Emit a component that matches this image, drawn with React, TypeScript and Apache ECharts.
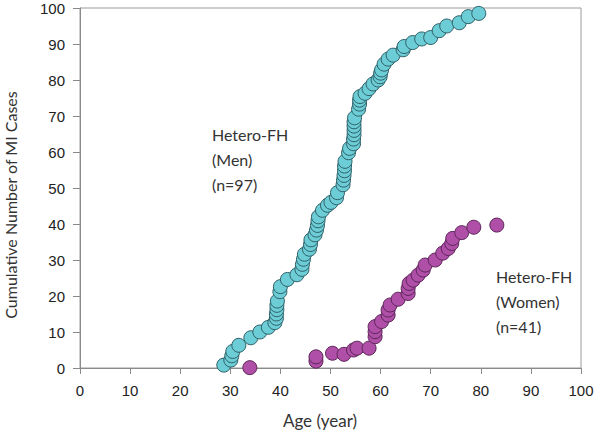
import React, { useEffect, useRef } from "react";
import * as echarts from "echarts";

const xTicks = [0, 100, 10];
const yTicks = [0, 100, 10];
const xTitle = "Age (year)";
const yTitle = "Cumulative Number of MI Cases";

const menAges = [
  28.7, 30.1, 30.3, 30.5, 31.7, 34.1, 35.9, 37.6, 38.9,
  39.2, 39.2, 39.3, 39.3, 39.4,
  39.9, 40.0, 41.4, 43.3, 44.3, 44.4, 44.6, 44.8, 45.8, 46.0, 46.1, 46.9, 47.2, 47.4, 47.5, 47.6, 48.4, 49.4, 50.1,
  51.2, 51.4, 52.5, 52.6, 52.7, 52.8, 52.8, 52.9, 53.6, 53.8, 54.6, 54.6, 54.7, 54.7, 54.7, 54.7, 54.8,
  55.6, 55.8, 55.8, 55.9, 56.9, 57.7, 58.5, 59.5, 59.9, 60.0, 60.2, 60.7, 61.5, 62.5, 64.5, 64.7, 66.4, 68.2, 70.0, 71.7, 73.2, 75.7, 77.5, 79.6,
];
const menCases = [
  0.8, 2.2, 3.4, 4.6, 6.3, 8.4, 10.0, 11.3, 12.6,
  13.8, 15.0, 16.2, 17.4, 18.6,
  21.2, 22.6, 24.6, 25.9, 27.4, 28.8, 30.2, 31.6, 33.0, 34.3, 35.6, 37.0, 38.3, 39.6, 40.9, 42.0, 43.8, 45.2, 46.0,
  47.3, 48.7, 50.9, 52.2, 53.5, 54.8, 56.1, 57.4, 59.8, 61.0, 62.3, 63.6, 64.8, 66.0, 67.2, 68.4, 69.5,
  71.9, 73.3, 74.4, 75.4, 76.3, 77.6, 78.9, 80.0, 80.9, 81.9, 82.8, 84.4, 85.8, 86.9, 88.4, 89.3, 90.4, 91.4, 91.8, 93.7, 95.0, 95.9, 97.6, 98.5,
];

const womenAges = [
  33.9, 47.1, 47.1, 50.4, 52.7, 54.6, 55.3, 57.7,
  58.9, 58.9, 58.9, 60.2, 61.5, 61.5, 61.9, 63.5, 65.5, 65.5, 65.7, 66.5, 67.5, 68.5, 68.9, 70.9, 72.4, 73.5, 74.2, 74.4, 76.2, 78.6, 83.2,
];
const womenCases = [
  0.1, 1.9, 3.1, 4.1, 3.8, 5.0, 5.5, 5.5,
  8.7, 10.1, 11.5, 12.9, 14.7, 16.1, 17.5, 19.1, 20.7, 22.1, 23.5, 24.4, 25.8, 27.2, 28.6, 30.0, 31.9, 33.2, 34.6, 36.0, 37.6, 39.1, 39.7,
];

const menLabel = ["Hetero-FH", "(Men)", "(n=97)"];
const womenLabel = ["Hetero-FH", "(Women)", "(n=41)"];

export default function App() {
  const ref = useRef<HTMLDivElement>(null);
  useEffect(() => {
    if (!ref.current) return;
    const chart = echarts.init(ref.current, null, { renderer: "svg" });
    const textFont = "Lato, 'Open Sans', sans-serif";
    const tickFont = "'Liberation Sans', Arial, sans-serif";
    chart.setOption({
      animation: false,
      grid: {
        left: 80,
        right: 19,
        top: 8,
        bottom: 64,
        outerBoundsMode: "none",
        containLabel: false,
        show: true,
        borderColor: "#9a9a9a",
        borderWidth: 1,
        backgroundColor: "transparent",
      },
      xAxis: {
        type: "value",
        min: xTicks[0],
        max: xTicks[1],
        interval: xTicks[2],
        axisLine: { show: true, lineStyle: { color: "#8a8a8a" } },
        axisTick: { show: true, inside: false, length: 6, lineStyle: { color: "#8a8a8a" } },
        axisLabel: { fontFamily: tickFont, fontSize: 15, color: "#222", margin: 15 },
        splitLine: { show: false },
      },
      yAxis: {
        type: "value",
        min: yTicks[0],
        max: yTicks[1],
        interval: yTicks[2],
        axisLine: { show: true, lineStyle: { color: "#8a8a8a" } },
        axisTick: { show: true, inside: false, length: 7, lineStyle: { color: "#8a8a8a" } },
        axisLabel: { fontFamily: tickFont, fontSize: 15, color: "#222", margin: 15 },
        splitLine: { show: false },
      },
      series: [
        {
          name: "Men",
          type: "scatter",
          symbolSize: 14,
          data: menAges.map((a, i) => [a, menCases[i]]),
          itemStyle: { color: "#6ccdd7", borderColor: "#2f5f66", borderWidth: 1, opacity: 1 },
        },
        {
          name: "Women",
          type: "scatter",
          symbolSize: 14,
          data: womenAges.map((a, i) => [a, womenCases[i]]),
          itemStyle: { color: "#b04fa8", borderColor: "#5c2658", borderWidth: 1, opacity: 1 },
        },
      ],
      graphic: [
        {
          type: "text",
          x: 320,
          y: 420,
          style: {
            text: xTitle,
            fontFamily: textFont,
            fontSize: 17,
            fill: "#333",
            align: "center",
            verticalAlign: "middle",
          },
        },
        {
          type: "text",
          x: 10,
          y: 205,
          rotation: Math.PI / 2,
          style: {
            text: yTitle,
            fontFamily: textFont,
            fontSize: 16,
            fill: "#333",
            align: "center",
            verticalAlign: "middle",
          },
        },
        ...menLabel.map((t, i) => ({
          type: "text",
          left: 212,
          top: 126 + i * 25,
          style: { text: t, fontFamily: textFont, fontSize: 16, fill: "#333" },
        })),
        ...womenLabel.map((t, i) => ({
          type: "text",
          left: 496,
          top: 268 + i * 25,
          style: { text: t, fontFamily: textFont, fontSize: 16, fill: "#333" },
        })),
      ],
    });
    return () => chart.dispose();
  }, []);
  return (
    <div
      ref={ref}
      style={{ position: "fixed", left: 0, top: 0, width: 600, height: 432, background: "#fff" }}
    />
  );
}
